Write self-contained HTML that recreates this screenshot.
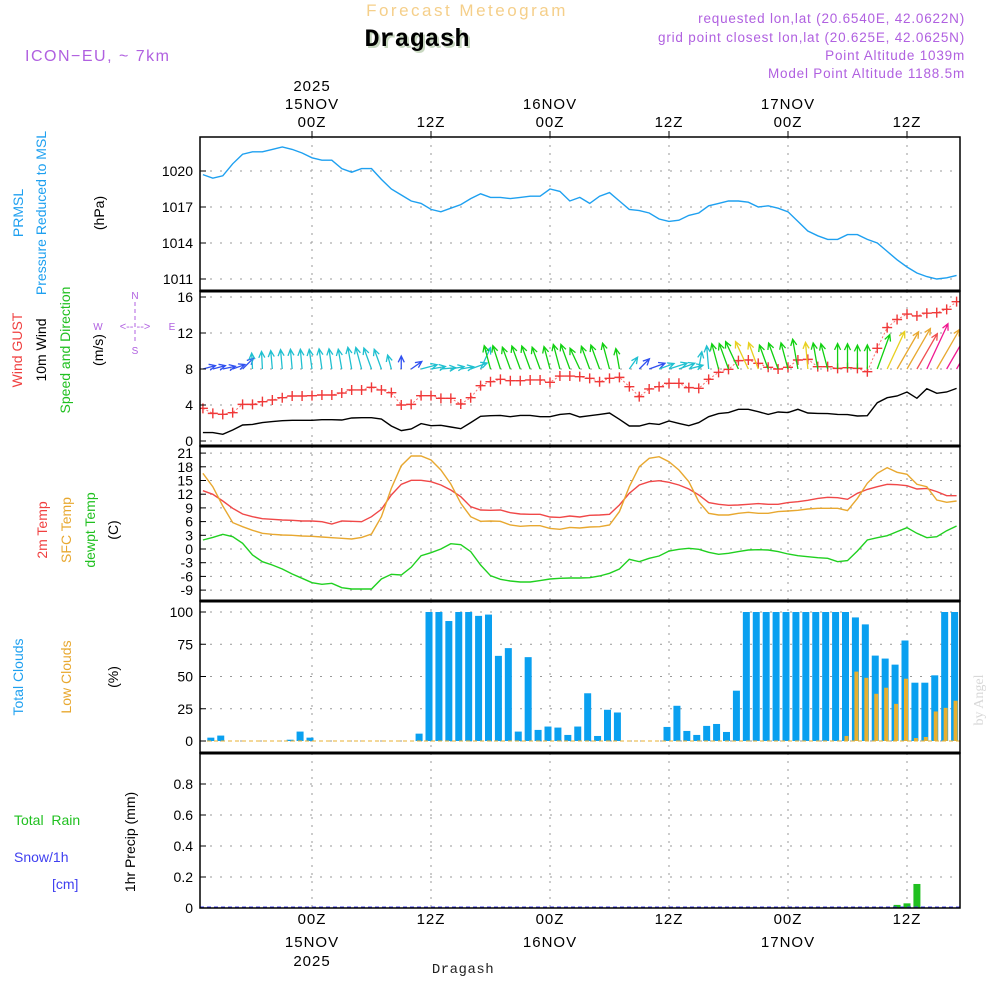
<!DOCTYPE html>
<html><head><meta charset="utf-8"><style>
html,body{margin:0;padding:0;background:#fff;}
svg{display:block;font-family:"Liberation Sans",sans-serif;}
</style></head><body>
<svg id="chart" width="1000" height="1000" viewBox="0 0 1000 1000" xmlns="http://www.w3.org/2000/svg">
<defs><clipPath id="plotclip"><rect x="200" y="137" width="760" height="771"/></clipPath></defs>
<rect x="0" y="0" width="1000" height="1000" fill="#fff"/>
<text x="467" y="16" text-anchor="middle" font-size="17" fill="#f5cf8a" letter-spacing="2.5">Forecast Meteogram</text>
<text x="419" y="48" text-anchor="middle" font-size="25" font-weight="bold" font-family="Liberation Mono, monospace" fill="#c8d8c0">Dragash</text>
<text x="417" y="46" text-anchor="middle" font-size="25" font-weight="bold" font-family="Liberation Mono, monospace" fill="#000">Dragash</text>
<text x="25" y="61" font-size="16" fill="#b060e0" letter-spacing="1.5">ICON−EU, ~ 7km</text>
<g font-size="13.5" fill="#b060e0" text-anchor="end" letter-spacing="0.8">
<text x="965" y="23">requested lon,lat (20.6540E, 42.0622N)</text>
<text x="965" y="42">grid point closest lon,lat (20.625E, 42.0625N)</text>
<text x="965" y="60">Point Altitude 1039m</text>
<text x="965" y="78">Model Point Altitude 1188.5m</text>
</g>
<g id="grid"></g>
<g id="marks" clip-path="url(#plotclip)"></g>
<g id="frame"></g>
<g id="axes" font-size="14" fill="#000"></g>
<g font-size="14">
<text transform="translate(23,213) rotate(-90)" text-anchor="middle" fill="#1ea0f0">PRMSL</text>
<text transform="translate(46,213) rotate(-90)" text-anchor="middle" fill="#1ea0f0">Pressure Reduced to MSL</text>
<text transform="translate(104,213) rotate(-90)" text-anchor="middle" fill="#000">(hPa)</text>
</g>
<g font-size="14">
<text transform="translate(22,350) rotate(-90)" text-anchor="middle" fill="#f04040">Wind GUST</text>
<text transform="translate(46,350) rotate(-90)" text-anchor="middle" fill="#000">10m Wind</text>
<text transform="translate(70,350) rotate(-90)" text-anchor="middle" fill="#20c020">Speed and Direction</text>
<text transform="translate(103,350) rotate(-90)" text-anchor="middle" fill="#000">(m/s)</text>
<g fill="#b060e0" font-size="10" text-anchor="middle">
<text x="135" y="299">N</text><text x="135" y="354">S</text><text x="98" y="330">W</text><text x="172" y="330">E</text>
<text x="135" y="330" font-size="11">&lt;-- --&gt;</text>
<line x1="135" y1="302" x2="135" y2="344" stroke="#b060e0" stroke-dasharray="4,3"/>
</g>
</g>
<g font-size="14">
<text transform="translate(47,530) rotate(-90)" text-anchor="middle" fill="#f04040">2m Temp</text>
<text transform="translate(71,530) rotate(-90)" text-anchor="middle" fill="#e8a830">SFC Temp</text>
<text transform="translate(95,530) rotate(-90)" text-anchor="middle" fill="#20c020">dewpt Temp</text>
<text transform="translate(118,530) rotate(-90)" text-anchor="middle" fill="#000">(C)</text>
</g>
<g font-size="14">
<text transform="translate(23,677) rotate(-90)" text-anchor="middle" fill="#1ea0f0">Total Clouds</text>
<text transform="translate(71,677) rotate(-90)" text-anchor="middle" fill="#e8a830">Low Clouds</text>
<text transform="translate(118,677) rotate(-90)" text-anchor="middle" fill="#000">(%)</text>
</g>
<g font-size="14">
<text x="14" y="825" fill="#20c020" xml:space="preserve">Total  Rain</text>
<text x="14" y="862" fill="#4040f0">Snow/1h</text>
<text x="52" y="889" fill="#4040f0">[cm]</text>
<text transform="translate(135,842) rotate(-90)" text-anchor="middle" fill="#000">1hr Precip (mm)</text>
</g>
<text x="463" y="973" text-anchor="middle" font-size="14" font-family="Liberation Mono, monospace" fill="#222" letter-spacing="0.5">Dragash</text>
<text transform="translate(983,700) rotate(-90)" text-anchor="middle" font-size="14" font-family="Liberation Serif, serif" fill="#d8d8d8">by Angel</text>
</svg>
<script>
// hours relative to 00Z 15NOV
const hours = [];
for (let h = -11; h <= 65; h++) hours.push(h);
const pressure = [1019.7,1019.4,1019.6,1020.6,1021.4,1021.6,1021.6,1021.8,1022.0,1021.8,1021.5,1021.1,1020.9,1020.9,1020.2,1019.9,1020.2,1020.2,1019.3,1018.5,1018.0,1017.5,1017.3,1016.8,1016.6,1016.9,1017.2,1017.7,1018.1,1017.8,1017.8,1017.7,1017.8,1017.9,1017.9,1018.5,1018.3,1017.5,1017.8,1017.3,
1017.9,1018.2,1017.5,1016.8,1016.7,1016.5,1016.0,1015.8,1015.9,1016.3,1016.5,1017.1,1017.3,1017.5,1017.5,1017.4,1017.0,1017.1,1016.9,1016.6,1015.8,1015.0,1014.6,1014.3,1014.3,1014.7,1014.7,1014.3,1014.0,1013.3,1012.6,1012.0,1011.5,1011.2,1011.0,1011.1,1011.3];
const windSpeed = [0.93,0.93,0.74,1.22,1.78,1.85,2.04,2.15,2.26,2.30,2.30,2.30,2.37,2.37,2.33,2.56,2.59,2.59,2.44,1.67,1.15,1.33,1.93,1.70,1.74,1.56,1.37,2.04,2.74,2.81,2.85,2.70,2.85,2.85,2.70,2.70,2.96,3.04,2.67,2.81,
2.96,3.11,2.41,1.67,1.67,1.96,1.85,2.22,1.96,1.70,2.04,2.70,3.04,3.15,3.52,3.52,3.26,2.96,3.22,3.15,3.52,3.11,3.07,3.04,2.96,2.93,2.78,2.81,4.26,4.81,5.0,5.44,4.74,5.81,5.30,5.44,5.85];
const windGust = [3.63,3.07,2.96,3.15,4.07,4.07,4.37,4.56,4.81,5.00,5.00,5.04,5.11,5.11,5.33,5.67,5.67,5.96,5.67,5.37,4.0,4.07,5.04,5.04,4.74,4.74,4.11,4.81,6.15,6.59,6.85,6.70,6.70,6.78,6.78,6.52,7.22,7.22,7.15,6.96,
6.59,6.96,7.07,6.04,4.93,5.78,6.04,6.41,6.41,5.93,5.85,6.85,7.63,7.96,8.93,9.0,8.63,8.19,8.0,8.19,9.0,9.07,8.26,8.26,8.07,8.15,8.07,7.70,10.30,12.6,13.5,14.1,13.9,14.2,14.26,14.63,15.48];
const windDir = [75,75,78,70,45,-3,-3,-5,-5,-5,-5,-8,-8,-8,-10,-10,-15,-20,-20,-15,0,55,75,80,85,80,80,70,25,-15,-18,-20,-20,-20,-20,-15,-15,-20,-25,-20,
-20,-15,-10,35,45,70,70,72,70,75,10,-5,-15,-20,-25,-25,-20,-20,-20,-15,-10,-5,-10,-15,0,0,0,0,20,25,30,30,30,25,30,30,30];
const windColorCode = "BBBBBCCCCCCCCCCCCCCCBBCCCCCCCGGGGGGGGGGGG" + "GGCBBCCCCCCGGGYYGGGGYGGGGGGGYOORPOPPR";
const temp2m = [12.77,11.97,10.51,8.91,7.66,7.08,6.64,6.50,6.35,6.28,6.13,6.13,5.98,5.47,6.13,6.06,5.98,7.08,8.69,11.82,14.16,15.04,15.04,14.74,14.01,12.92,11.45,9.26,8.54,8.47,8.54,7.95,7.66,7.59,7.59,7.01,6.93,7.23,7.01,7.37,
7.44,7.59,9.63,12.19,14.01,14.74,14.96,14.6,14.01,13.14,11.82,10.15,9.78,9.56,9.63,9.78,9.93,9.78,9.78,10.15,10.36,10.66,11.09,11.31,11.24,10.88,12.19,13.06,13.65,14.16,14.09,13.87,13.14,13.28,12.56,11.68,11.68];
const tempSfc = [16.57,13.65,9.42,5.77,4.89,4.09,3.43,3.21,3.07,2.99,2.85,2.77,2.63,2.48,2.34,2.19,2.55,3.28,7.08,13.28,18.25,20.36,20.36,19.49,17.30,14.23,10.00,7.08,6.06,6.13,6.06,5.26,4.96,5.11,5.11,4.52,4.31,4.74,4.60,4.82,
4.89,5.26,8.18,13.65,18.03,19.85,20.22,19.12,17.30,14.74,10.36,7.81,7.44,7.44,7.81,8.03,7.81,7.81,8.18,8.32,8.47,8.76,8.91,8.91,8.91,8.40,11.09,14.38,16.57,17.81,16.79,16.35,14.16,13.65,10.73,10.22,10.51];
const dewpoint = [1.97,2.55,3.21,2.70,1.24,-1.31,-2.77,-3.50,-4.38,-5.47,-6.42,-7.37,-7.74,-7.52,-8.47,-8.76,-8.76,-8.76,-6.57,-5.55,-5.69,-4.01,-1.46,-0.80,0,1.17,0.95,-0.58,-3.50,-5.84,-6.64,-7.01,-7.23,-7.23,-6.93,-6.57,-6.42,-6.35,-6.35,-6.28,
-5.91,-5.33,-4.38,-2.26,-2.77,-2.04,-1.53,-0.44,-0.07,0.15,-0.07,-0.73,-1.17,-0.95,-0.58,-0.22,-0.15,-0.22,-0.58,-1.09,-1.46,-1.68,-1.90,-2.04,-2.77,-2.55,-0.44,1.97,2.48,2.92,3.80,4.67,3.43,2.48,2.70,4.01,5.04];
// cloud bars: hours -10..65
const cloudHours = [];
for (let h = -10; h <= 65; h++) cloudHours.push(h);
const totalClouds = [2.6,4.2,0,0,0,0,0,0,1,7.3,2.6,0,0,0,0,0,0,0,0,0,0,5.7,100,100,93,100,100,97,98,66,72,7.3,65,8.6,11.2,10.4,4.7,11.2,37,
3.9,24.2,22.1,0,0,0,0,10.9,27.3,7.8,4.7,11.7,13.2,7.0,39,100,100,100,100,100,100,100,100,100,100,100,95.8,90.4,66.2,63.9,59.2,77.9,45.2,45.2,50.9,100,100];
const lowClouds = [0,0,0,0,0,0,0,0,0,0,0,0,0,0,0,0,0,0,0,0,0,0,0,0,0,0,0,0,0,0,0,0,0,0,0,0,0,0,0,
0,0,0,0,0,0,0,0,0,0,0,0,0,0,0,0,0,0,0,0,0,0,0,0,0,3.9,53.8,49,36.6,41.3,28.8,48.3,2.3,3.1,22.9,25.7,31.2];
const precipHours = [59,60,61];
const precipValues = [0.02,0.03,0.155];
const pressureTicks = [1011,1014,1017,1020];
const windTicks = [0,4,8,12,16];
const tempTicks = [-9,-6,-3,0,3,6,9,12,15,18,21];
const cloudTicks = [0,25,50,75,100];
const precipTicks = [0,0.2,0.4,0.6,0.8];
const timeTickHours = [0,12,24,36,48,60];
const timeTickLabels = ["00Z","12Z","00Z","12Z","00Z","12Z"];
const dateLabels = {0:"15NOV",24:"16NOV",48:"17NOV"};

const NS = "http://www.w3.org/2000/svg";
const X0 = 200, X1 = 960;
const xh = h => 312 + h * 119 / 12;
const yP = v => 279 - (v - 1011) * 12;
const yW = v => 441 - v * 9;
const yT = v => 549 - v * 4.567;
const yC = v => 741 - v * 1.29;
const yR = v => 908 - v * 155;
const panels = [[137,291],[291,446],[446,601],[601,753],[753,908]];
function mk(tag, attrs, parent) {
  const e = document.createElementNS(NS, tag);
  for (const k in attrs) e.setAttribute(k, attrs[k]);
  parent.appendChild(e);
  return e;
}
const grid = document.getElementById('grid');
const marks = document.getElementById('marks');
const frame = document.getElementById('frame');
const axes = document.getElementById('axes');

panels.forEach(p => {
  timeTickHours.forEach(h => {
    const l = mk('line', {x1: xh(h), x2: xh(h), y1: p[0], y2: p[1], stroke: '#999', 'stroke-dasharray': '2,6'}, grid);
    
    
  });
});
function yAxis(ticks, yf, fmt, name) {
  ticks.forEach(v => {
    const y = yf(v);
    const g = mk('line', {x1: X0, x2: X1, y1: y, y2: y, stroke: '#999', 'stroke-dasharray': '2,8'}, grid);
    
    
    mk('line', {x1: X0, x2: X0 + 6, y1: y, y2: y, stroke: '#000'}, axes);
    const t = mk('text', {x: 193, y: y + 5, 'text-anchor': 'end'}, axes);
    t.textContent = fmt(v);
    
    
  });
}
yAxis(pressureTicks, yP, v => String(v), 'pressure');
yAxis(windTicks, yW, v => String(v), 'wind');
yAxis(tempTicks, yT, v => String(v), 'temp');
yAxis(cloudTicks, yC, v => String(v), 'cloud');
yAxis(precipTicks, yR, v => v === 0 ? '0' : v.toFixed(1), 'precip');

timeTickHours.forEach((h, i) => {
  const x = xh(h);
  mk('line', {x1: x, x2: x, y1: 131, y2: 137, stroke: '#000'}, axes);
  const t = mk('text', {x: x, y: 127, 'text-anchor': 'middle', 'font-size': '15', 'letter-spacing': '1'}, axes);
  t.textContent = timeTickLabels[i];
  
  
  const b = mk('text', {x: x, y: 924, 'text-anchor': 'middle', 'font-size': '15', 'letter-spacing': '1'}, axes);
  b.textContent = timeTickLabels[i];
  
  
  if (dateLabels[h]) {
    const d = mk('text', {x: x, y: 109, 'text-anchor': 'middle', 'font-size': '15', 'letter-spacing': '1'}, axes);
    d.textContent = dateLabels[h];
    
    
    const d2 = mk('text', {x: x, y: 947, 'text-anchor': 'middle', 'font-size': '15', 'letter-spacing': '1'}, axes);
    d2.textContent = dateLabels[h];
    
    
  }
});
[[91],[966]].forEach((a, i) => {
  const t = mk('text', {x: xh(0), y: a[0], 'text-anchor': 'middle', 'font-size': '15', 'letter-spacing': '1'}, axes);
  t.textContent = '2025';
  
  
});

function line(vals, xs, yf, color, name, extra) {
  const pts = vals.map((v, i) => xh(xs[i]).toFixed(1) + ',' + yf(v).toFixed(1)).join(' ');
  const p = mk('polyline', Object.assign({points: pts, fill: 'none', stroke: color, 'stroke-width': '1.4'}, extra || {}), marks);
  
  
}
line(pressure, hours, yP, '#1ea0f0', 'pressure-line');
line(windSpeed, hours, yW, '#000', 'wind-speed-line');
line(windGust, hours, yW, '#f87070', 'wind-gust-line', {'stroke-dasharray': '2,2', 'stroke-width': '1'});
windGust.forEach((v, i) => {
  const x = xh(hours[i]), y = yW(v);
  const m = mk('path', {d: `M${x-5},${y}H${x+5}M${x},${y-5}V${y+5}`, stroke: '#f03838', 'stroke-width': '1.4'}, marks);
  
  
});
const colorMap = {B:'#3050f0', C:'#20c0d0', G:'#10d010', Y:'#e8d020', O:'#e8a830', R:'#f05050', P:'#f01890'};
windDir.forEach((d, i) => {
  const x = xh(hours[i]), y = yW(8);
  const len = Math.max(13, windSpeed[i] * 8.6);
  const a = d * Math.PI / 180;
  const tx = x + Math.sin(a) * len, ty = y - Math.cos(a) * len;
  const hl = 7, ha = 0.45;
  const b1x = tx - Math.sin(a - ha) * hl, b1y = ty + Math.cos(a - ha) * hl;
  const b2x = tx - Math.sin(a + ha) * hl, b2y = ty + Math.cos(a + ha) * hl;
  const c = colorMap[windColorCode[i]] || '#10d010';
  const ar = mk('path', {d: `M${x},${y}L${tx},${ty}M${b1x},${b1y}L${tx},${ty}L${b2x},${b2y}`, stroke: c, 'stroke-width': '1.3', fill: 'none'}, marks);
  
  
});
line(temp2m, hours, yT, '#f04848', '2m-temp-line');
line(tempSfc, hours, yT, '#e8a830', 'sfc-temp-line');
line(dewpoint, hours, yT, '#20d020', 'dewpoint-line');

totalClouds.forEach((v, i) => {
  const x = xh(cloudHours[i]) - 2;
  const r = mk('rect', {x: x - 3.5, y: yC(v), width: 7, height: Math.max(0, yC(0) - yC(v)), fill: '#0aa0f0'}, marks);
  
  
});
lowClouds.forEach((v, i) => {
  const x = xh(cloudHours[i]) - 1;
  const r = mk('rect', {x: x - 2, y: yC(v), width: 4, height: Math.max(0, yC(0) - yC(v)), fill: '#e8b030'}, marks);
  
  
});
const cz = mk('line', {x1: X0, x2: X1, y1: yC(0), y2: yC(0), stroke: '#e8b030', 'stroke-dasharray': '4,3'}, marks);


precipValues.forEach((v, i) => {
  const x = xh(precipHours[i]);
  const r = mk('rect', {x: x - 3.5, y: yR(v), width: 7, height: yR(0) - yR(v), fill: '#20c020'}, marks);
  
  
});
const pz = mk('line', {x1: X0, x2: X1, y1: yR(0) - 1, y2: yR(0) - 1, stroke: '#4040f0', 'stroke-dasharray': '4,3'}, marks);



panels.forEach((p, i) => {
  const r = mk('rect', {x: X0, y: p[0], width: X1 - X0, height: p[1] - p[0], fill: 'none', stroke: '#000', 'stroke-width': '1.5'}, frame);
  
  
  if (i > 0) {
    const s = mk('line', {x1: X0, x2: X1, y1: p[0], y2: p[0], stroke: '#000', 'stroke-width': '3'}, frame);
    
    
  }
});
</script>
</body></html>
